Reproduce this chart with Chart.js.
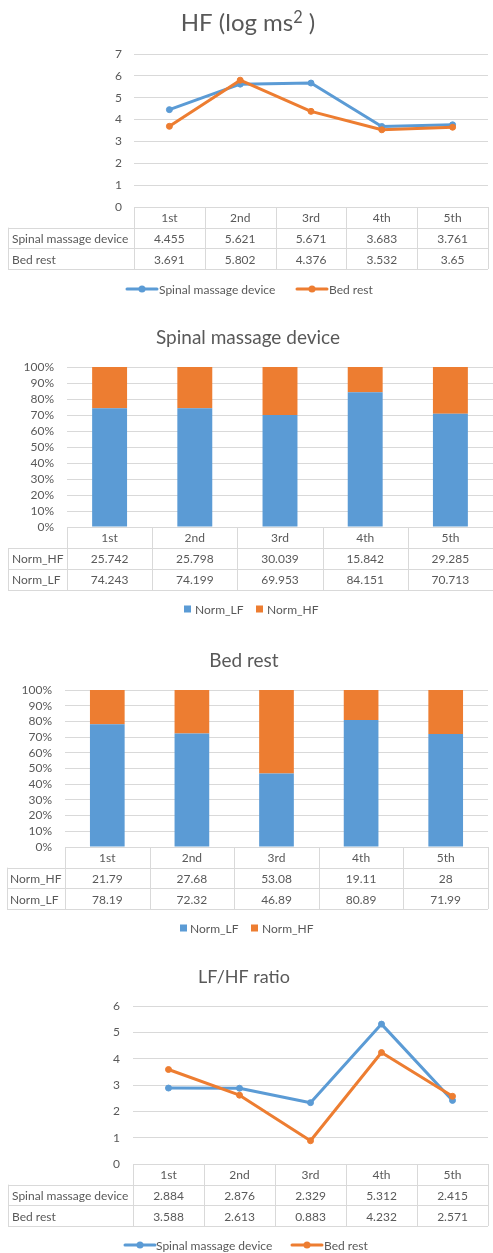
<!DOCTYPE html>
<html>
<head>
<meta charset="utf-8">
<script src="https://cdn.jsdelivr.net/npm/chart.js@4.4.1/dist/chart.umd.min.js"></script>
<style>
  html, body { margin: 0; padding: 0; background: #ffffff; }
  body { position: relative; width: 493px; height: 1253px; overflow: hidden; }
  canvas { position: absolute; left: 0; }
</style>
</head>
<body>
<canvas id="hfChart" width="493" height="305" style="top:0px"></canvas>
<canvas id="deviceChart" width="493" height="330" style="top:305px"></canvas>
<canvas id="bedChart" width="493" height="315" style="top:635px"></canvas>
<canvas id="ratioChart" width="493" height="303" style="top:950px"></canvas>
<script>
// Measurement sessions
const sessions = ['1st', '2nd', '3rd', '4th', '5th'];

// HF power (log ms²)
const hfDevice  = [4.455, 5.621, 5.671, 3.683, 3.761];
const hfBedRest = [3.691, 5.802, 4.376, 3.532, 3.65];

// Normalised LF / HF, spinal massage device
const deviceNormHF = [25.742, 25.798, 30.039, 15.842, 29.285];
const deviceNormLF = [74.243, 74.199, 69.953, 84.151, 70.713];

// Normalised LF / HF, bed rest
const bedNormHF = [21.79, 27.68, 53.08, 19.11, 28];
const bedNormLF = [78.19, 72.32, 46.89, 80.89, 71.99];

// LF/HF ratio
const ratioDevice  = [2.884, 2.876, 2.329, 5.312, 2.415];
const ratioBedRest = [3.588, 2.613, 0.883, 4.232, 2.571];

// Axis ranges
const hfAxis    = { min: 0, max: 7, step: 1 };
const pctAxis   = { min: 0, max: 100, step: 10 };
const ratioAxis = { min: 0, max: 6, step: 1 };

const BLUE = '#5B9BD5';
const ORANGE = '#ED7D31';
const TEXT = '#595959';
const GRID = '#D9D9D9';
const FONT = 'Lato, "Open Sans", sans-serif';

// Draws the title, the data table under the category axis and the legend.
const sheetPlugin = {
  id: 'sheet',
  afterDraw(chart, args, o) {
    const ctx = chart.ctx;
    const area = chart.chartArea;
    const xs = chart.scales.x;
    const n = xs.getLabels().length;
    const top = area.bottom;
    const rh = (xs.bottom - xs.top) / 3;
    const px = v => Math.round(v) + 0.5;
    ctx.save();

    // title, made of plain and superscript runs
    ctx.fillStyle = TEXT;
    ctx.textAlign = 'left';
    ctx.textBaseline = 'alphabetic';
    const runs = o.title.map(r => {
      const size = r.sup ? o.titleSize * 0.68 : o.titleSize;
      ctx.font = size + 'px ' + FONT;
      return { text: r.text, sup: r.sup, size, w: ctx.measureText(r.text).width };
    });
    const total = runs.reduce((s, r) => s + r.w, 0);
    let tx = o.titleX - total / 2;
    const base = o.titleY + o.titleSize * 0.36;
    runs.forEach(r => {
      ctx.font = r.size + 'px ' + FONT;
      ctx.fillText(r.text, tx, r.sup ? base - o.titleSize * 0.33 : base);
      tx += r.w;
    });

    // table lines
    const edges = [];
    for (let i = 0; i <= n; i++) {
      if (i === 0) edges.push(area.left);
      else if (i === n) edges.push(area.right);
      else edges.push((xs.getPixelForValue(i - 1) + xs.getPixelForValue(i)) / 2);
    }
    const L = o.tableLeft;
    ctx.strokeStyle = GRID;
    ctx.lineWidth = 1;
    ctx.beginPath();
    edges.forEach(x => { ctx.moveTo(px(x), top); ctx.lineTo(px(x), top + 3 * rh); });
    ctx.moveTo(px(L), top + rh); ctx.lineTo(px(L), top + 3 * rh);
    for (let r = 1; r <= 3; r++) {
      ctx.moveTo(L, px(top + r * rh));
      ctx.lineTo(area.right, px(top + r * rh));
    }
    ctx.stroke();

    // table text
    ctx.font = o.cellSize + 'px ' + FONT;
    ctx.fillStyle = TEXT;
    ctx.textBaseline = 'middle';
    ctx.textAlign = 'center';
    xs.getLabels().forEach((lab, i) => ctx.fillText(lab, xs.getPixelForValue(i), top + rh / 2 + 1));
    o.rows.forEach((row, r) => {
      const y = top + rh * (r + 1.5) + 1;
      ctx.textAlign = 'left';
      ctx.fillText(row.label, o.labelX, y);
      ctx.textAlign = 'center';
      row.values.forEach((v, i) => ctx.fillText(String(v), xs.getPixelForValue(i), y));
    });

    // legend
    const lg = o.legend;
    ctx.font = o.cellSize + 'px ' + FONT;
    ctx.textAlign = 'left';
    lg.items.forEach(item => {
      const ds = chart.data.datasets[item.dataset];
      const color = ds.borderColor || ds.backgroundColor;
      if (lg.type === 'line') {
        ctx.strokeStyle = color;
        ctx.lineWidth = 3;
        ctx.lineCap = 'round';
        ctx.beginPath();
        ctx.moveTo(item.symbolX, lg.y);
        ctx.lineTo(item.symbolX + 30, lg.y);
        ctx.stroke();
        ctx.fillStyle = color;
        ctx.beginPath();
        ctx.arc(item.symbolX + 15, lg.y, 3.5, 0, Math.PI * 2);
        ctx.fill();
      } else {
        ctx.fillStyle = color;
        ctx.fillRect(item.symbolX, lg.y - 3.5, 7, 7);
      }
      ctx.fillStyle = TEXT;
      ctx.fillText(ds.label, item.textX, lg.y + 1);
    });
    ctx.restore();
  }
};
Chart.register(sheetPlugin);

function yScale(axis, width, pad, fmt) {
  return {
    min: axis.min, max: axis.max,
    stacked: fmt === 'pct',
    grid: { color: GRID, lineWidth: 1, drawTicks: false },
    border: { display: false },
    ticks: {
      stepSize: axis.step, padding: pad, color: TEXT, autoSkip: false,
      font: { family: FONT, size: 12 },
      callback: v => fmt === 'pct' ? v + '%' : v
    },
    afterFit: s => { s.width = width; }
  };
}

function xScale(height, stacked) {
  return {
    offset: true,
    stacked: stacked,
    grid: { display: false, drawTicks: false },
    border: { display: false },
    ticks: { display: false },
    afterFit: s => { s.height = height; }
  };
}

function lineSet(label, data, color, order) {
  return {
    label, data, order,
    borderColor: color, backgroundColor: color,
    borderWidth: 3, borderJoinStyle: 'round', borderCapStyle: 'round',
    pointRadius: 3, pointBorderWidth: 1, pointBackgroundColor: color, pointBorderColor: color,
    tension: 0
  };
}

function barSet(label, data, color) {
  return {
    label, data, backgroundColor: color, borderWidth: 0,
    categoryPercentage: 1, barPercentage: 0.41
  };
}

const common = {
  responsive: false,
  animation: false,
  events: [],
};

// HF (log ms²)
new Chart(document.getElementById('hfChart'), {
  type: 'line',
  data: {
    labels: sessions,
    datasets: [
      lineSet('Spinal massage device', hfDevice, BLUE, 1),
      lineSet('Bed rest', hfBedRest, ORANGE, 0)
    ]
  },
  options: {
    ...common,
    layout: { padding: { top: 54, left: 8, right: -2, bottom: 36 } },
    scales: { x: xScale(62, false), y: yScale(hfAxis, 126, 12, 'num') },
    plugins: {
      legend: { display: false }, tooltip: { enabled: false },
      sheet: {
        title: [{ text: 'HF (log ms' }, { text: '2', sup: true }, { text: ' )' }],
        titleX: 248, titleY: 22, titleSize: 24,
        tableLeft: 8, labelX: 12, cellSize: 12,
        rows: [
          { label: 'Spinal massage device', values: hfDevice },
          { label: 'Bed rest', values: hfBedRest }
        ],
        legend: { type: 'line', y: 289, items: [
          { dataset: 0, symbolX: 127, textX: 159 },
          { dataset: 1, symbolX: 297, textX: 329 }
        ] }
      }
    }
  }
});

// Spinal massage device, normalised components
new Chart(document.getElementById('deviceChart'), {
  type: 'bar',
  data: {
    labels: sessions,
    datasets: [
      barSet('Norm_LF', deviceNormLF, BLUE),
      barSet('Norm_HF', deviceNormHF, ORANGE)
    ]
  },
  options: {
    ...common,
    layout: { padding: { top: 62, left: 8, right: -4, bottom: 45 } },
    scales: { x: xScale(63, true), y: yScale(pctAxis, 59, 13, 'pct') },
    plugins: {
      legend: { display: false }, tooltip: { enabled: false },
      sheet: {
        title: [{ text: 'Spinal massage device' }], titleX: 248, titleY: 32, titleSize: 19,
        tableLeft: 8, labelX: 12, cellSize: 12,
        rows: [
          { label: 'Norm_HF', values: deviceNormHF },
          { label: 'Norm_LF', values: deviceNormLF }
        ],
        legend: { type: 'box', y: 304, items: [
          { dataset: 0, symbolX: 184, textX: 195 },
          { dataset: 1, symbolX: 256, textX: 267 }
        ] }
      }
    }
  }
});

// Bed rest, normalised components
new Chart(document.getElementById('bedChart'), {
  type: 'bar',
  data: {
    labels: sessions,
    datasets: [
      barSet('Norm_LF', bedNormLF, BLUE),
      barSet('Norm_HF', bedNormHF, ORANGE)
    ]
  },
  options: {
    ...common,
    layout: { padding: { top: 55, left: 7, right: 5, bottom: 41 } },
    scales: { x: xScale(62, true), y: yScale(pctAxis, 58, 13, 'pct') },
    plugins: {
      legend: { display: false }, tooltip: { enabled: false },
      sheet: {
        title: [{ text: 'Bed rest' }], titleX: 244, titleY: 25, titleSize: 19,
        tableLeft: 7, labelX: 10, cellSize: 12,
        rows: [
          { label: 'Norm_HF', values: bedNormHF },
          { label: 'Norm_LF', values: bedNormLF }
        ],
        legend: { type: 'box', y: 293, items: [
          { dataset: 0, symbolX: 180, textX: 190 },
          { dataset: 1, symbolX: 251, textX: 262 }
        ] }
      }
    }
  }
});

// LF/HF ratio
new Chart(document.getElementById('ratioChart'), {
  type: 'line',
  data: {
    labels: sessions,
    datasets: [
      lineSet('Spinal massage device', ratioDevice, BLUE, 1),
      lineSet('Bed rest', ratioBedRest, ORANGE, 0)
    ]
  },
  options: {
    ...common,
    layout: { padding: { top: 56, left: 8, right: 4, bottom: 27 } },
    scales: { x: xScale(62, false), y: yScale(ratioAxis, 125, 13, 'num') },
    plugins: {
      legend: { display: false }, tooltip: { enabled: false },
      sheet: {
        title: [{ text: 'LF/HF ratio' }], titleX: 244, titleY: 27, titleSize: 18,
        tableLeft: 8, labelX: 12, cellSize: 12,
        rows: [
          { label: 'Spinal massage device', values: ratioDevice },
          { label: 'Bed rest', values: ratioBedRest }
        ],
        legend: { type: 'line', y: 295, items: [
          { dataset: 0, symbolX: 125, textX: 156 },
          { dataset: 1, symbolX: 292, textX: 324 }
        ] }
      }
    }
  }
});
</script>
</body>
</html>
